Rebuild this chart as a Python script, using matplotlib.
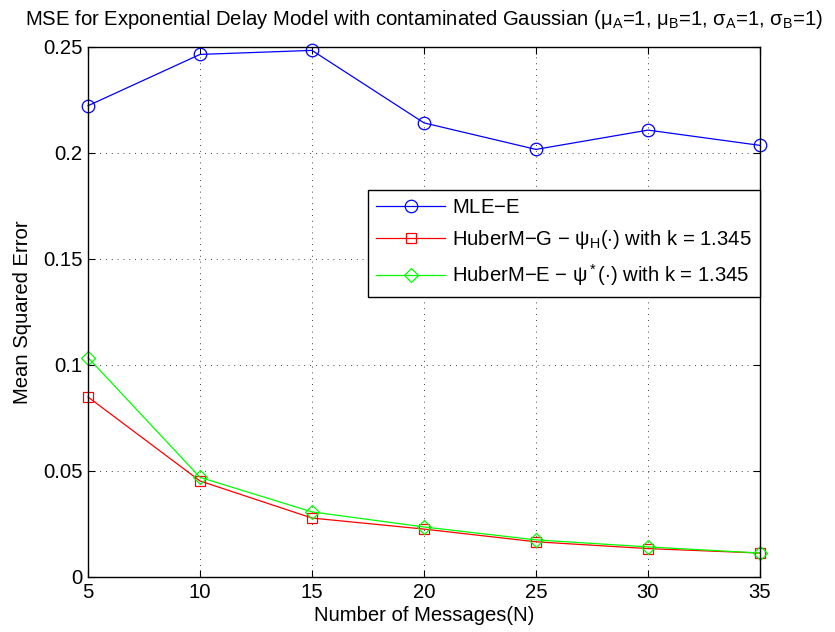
import numpy as np
import matplotlib
matplotlib.use("Agg")
import matplotlib.pyplot as plt

plt.rcParams['font.family'] = ['Liberation Sans', 'DejaVu Sans']
plt.rcParams['mathtext.fontset'] = 'custom'
plt.rcParams['mathtext.rm'] = 'Liberation Sans'
plt.rcParams['mathtext.it'] = 'Liberation Sans'
plt.rcParams['mathtext.sf'] = 'Liberation Sans'

# data
n_msgs = [5, 10, 15, 20, 25, 30, 35]
mle_e = [0.2223, 0.2465, 0.2484, 0.2142, 0.2017, 0.2108, 0.2036]
huber_g = [0.0849, 0.0453, 0.0278, 0.0226, 0.0166, 0.0134, 0.0113]
huber_e = [0.1035, 0.0470, 0.0307, 0.0236, 0.0175, 0.0142, 0.0113]

labels = [r"MLE$-$E",
          r"HuberM$-$G $-$ $\mathregular{\psi_H}$($\cdot$) with k = 1.345",
          r"HuberM$-$E $-$ $\mathregular{\psi^*}$($\cdot$) with k = 1.345"]

FS = 14.6

fig = plt.figure(figsize=(8.35, 6.32), dpi=100)
ax = fig.add_axes([88 / 835, 1 - 577 / 632, 672 / 835, 530 / 632])

ax.plot(n_msgs, mle_e, "-o", color="#0000ff", lw=0.9, ms=9, mfc="none",
        mew=0.9, label=labels[0], clip_on=False)
ax.plot(n_msgs, huber_g, "-s", color="#ff0000", lw=0.9, ms=7, mfc="none",
        mew=0.9, label=labels[1], clip_on=False)
ax.plot(n_msgs, huber_e, "-D", color="#00ff00", lw=0.9, ms=7.5, mfc="none",
        mew=0.9, label=labels[2], clip_on=False)

ax.set_xlim(5, 35)
ax.set_ylim(0, 0.25)
ax.set_xticks(n_msgs)
ax.set_yticks([0, 0.05, 0.1, 0.15, 0.2, 0.25])
ax.set_yticklabels(["0", "0.05", "0.1", "0.15", "0.2", "0.25"])
ax.grid(True, color="black", linestyle=(0, (1, 6)), lw=0.6)
ax.tick_params(direction="in", top=True, right=True, labelsize=FS,
               length=5, width=0.8, pad=4)
for s in ax.spines.values():
    s.set_linewidth(1.0)

ax.set_xlabel("Number of Messages(N)", fontsize=FS, labelpad=3)
ax.set_ylabel("Mean Squared Error", fontsize=FS, labelpad=8)
ax.set_title(r"MSE for Exponential Delay Model with contaminated Gaussian "
             r"($\mathregular{\mu_A}$=1, $\mathregular{\mu_B}$=1, "
             r"$\mathregular{\sigma_A}$=1, $\mathregular{\sigma_B}$=1)",
             fontsize=FS, pad=16)

leg = ax.legend(loc="upper right", bbox_to_anchor=(1.0, 0.73), fontsize=FS,
                fancybox=False, edgecolor="black", framealpha=1,
                handlelength=3.4, handletextpad=0.35, borderpad=0.4,
                labelspacing=0.55, borderaxespad=0)
leg.get_frame().set_linewidth(1.0)

fig.savefig("out.png", dpi=100)
